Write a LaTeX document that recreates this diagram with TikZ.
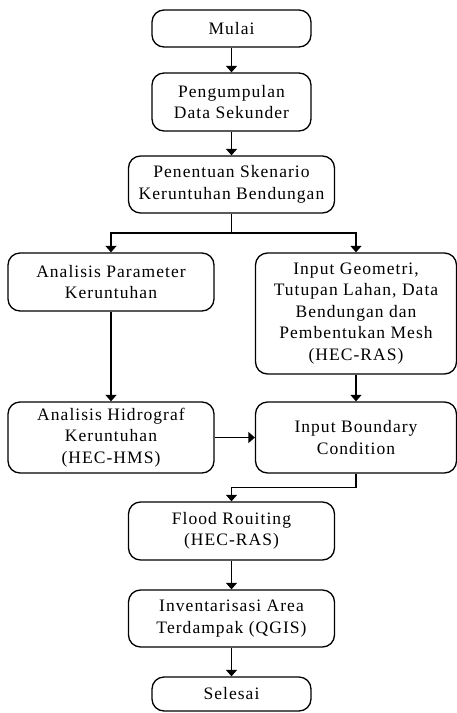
\documentclass[tikz,border=0pt]{standalone}
\usepackage{fontspec}
\setmainfont[LetterSpace=6]{Liberation Serif}
\usetikzlibrary{arrows.meta}
\begin{document}
\begin{tikzpicture}[x=1pt,y=-1pt,
  box/.style={draw=black, line width=1.3pt, rounded corners=12pt, align=center,
    inner sep=0pt, font=\fontsize{17.5}{21.5}\selectfont},
  arr/.style={line width=1.3pt, -{Triangle[length=6.5pt,width=11pt]}},
  ln/.style={line width=1.3pt}]
\useasboundingbox (0,0) rectangle (457,713);
\node[box, minimum width=159pt, minimum height=37pt] (mulai) at (231.5,28.5) {Mulai};
\node[box, minimum width=159pt, minimum height=58pt] (peng) at (231.5,102) {Pengumpulan\\Data Sekunder};
\node[box, minimum width=206pt, minimum height=57pt] (pen) at (231.5,184.5) {Penentuan Skenario\\Keruntuhan Bendungan};
\node[box, minimum width=206pt, minimum height=58pt] (ap) at (111,282) {Analisis Parameter\\Keruntuhan};
\node[box, minimum width=201pt, minimum height=121pt] (ig) at (356,313.5) {Input Geometri,\\Tutupan Lahan, Data\\Bendungan dan\\Pembentukan Mesh\\(HEC-RAS)};
\node[box, minimum width=206pt, minimum height=71pt] (ah) at (111,437.5) {Analisis Hidrograf\\Keruntuhan\\(HEC-HMS)};
\node[box, minimum width=201pt, minimum height=71pt] (ib) at (356,437.5) {Input Boundary\\Condition};
\node[box, minimum width=206pt, minimum height=58pt] (fr) at (231.5,531) {Flood Rouiting\\(HEC-RAS)};
\node[box, minimum width=206pt, minimum height=57pt] (inv) at (231.5,618.5) {Inventarisasi Area\\Terdampak (QGIS)};
\node[box, minimum width=159pt, minimum height=34pt] (sel) at (231.5,694) {Selesai};
\coordinate (br) at (231.5,233);
\draw[arr] (mulai) -- (peng);
\draw[arr] (peng) -- (pen);
\draw[ln] (pen.south) -- (br);
\draw[arr] (br) -| (ap.north);
\draw[arr] (br) -| (ig.north);
\draw[arr] (ap) -- (ah);
\draw[arr] (ig) -- (ib);
\draw[arr] (ah) -- (ib);
\draw[arr] (ib.south) -- ++(0,14) -| (fr.north);
\draw[arr] (fr) -- (inv);
\draw[arr] (inv) -- (sel);
\end{tikzpicture}
\end{document}
